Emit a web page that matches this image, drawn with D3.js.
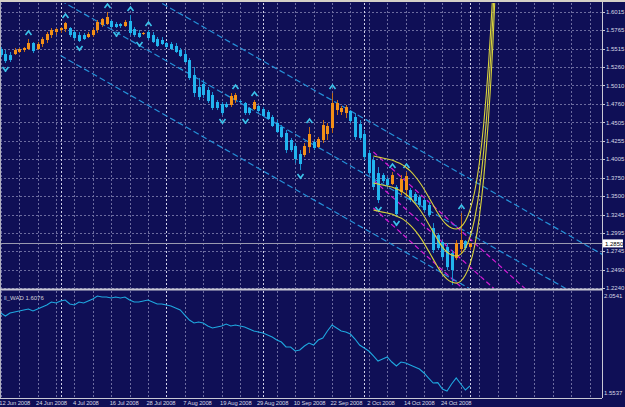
<!DOCTYPE html>
<html>
<head>
<meta charset="utf-8">
<script src="https://cdn.jsdelivr.net/npm/d3@7"></script>
<style>
  body{margin:0;background:#10105a;}
  svg{display:block;}
</style>
</head>
<body>
<svg></svg>
<script>
// daily bars, 12 Jun 2008 .. 3 Nov 2008
const opens = [1.5509,1.5440,1.5426,1.5440,1.5468,1.5495,1.5509,1.5591,1.5509,1.5577,1.5632,1.5700,1.5741,1.5769,1.5782,1.5796,1.5741,1.5700,1.5700,1.5673,1.5700,1.5769,1.5837,1.5851,1.5892,1.5851,1.5851,1.5823,1.5892,1.5782,1.5728,1.5714,1.5741,1.5700,1.5645,1.5632,1.5591,1.5577,1.5550,1.5495,1.5440,1.5358,1.5153,1.4989,1.5030,1.4948,1.4880,1.4784,1.4756,1.4756,1.4743,1.4811,1.4797,1.4770,1.4702,1.4688,1.4729,1.4688,1.4647,1.4579,1.4497,1.4442,1.4360,1.4264,1.4182,1.4072,1.4059,1.4168,1.4237,1.4168,1.4264,1.4346,1.4428,1.4674,1.4647,1.4633,1.4661,1.4579,1.4483,1.4346,1.4086,1.3990,1.3812,1.3785,1.3730,1.3662,1.3621,1.3552,1.3580,1.3580,1.3525,1.3484,1.3443,1.3375,1.3060,1.2964,1.2868,1.2800,1.2718,1.2649,1.2773,1.2882,1.2800];
const highs = [1.5536,1.5495,1.5468,1.5523,1.5523,1.5536,1.5645,1.5604,1.5604,1.5673,1.5741,1.5796,1.5796,1.5810,1.5878,1.5810,1.5769,1.5741,1.5728,1.5741,1.5796,1.5906,1.5933,1.6015,1.5906,1.5878,1.5864,1.5906,1.5974,1.5810,1.5769,1.5741,1.5769,1.5741,1.5673,1.5673,1.5604,1.5604,1.5591,1.5523,1.5495,1.5386,1.5262,1.5112,1.5085,1.4989,1.4921,1.4811,1.4784,1.4784,1.4907,1.4907,1.4811,1.4784,1.4715,1.4811,1.4743,1.4715,1.4674,1.4606,1.4538,1.4469,1.4401,1.4291,1.4223,1.4127,1.4223,1.4442,1.4264,1.4305,1.4538,1.4497,1.4907,1.4811,1.4729,1.4743,1.4674,1.4633,1.4538,1.4401,1.4127,1.4031,1.3894,1.3812,1.3758,1.3826,1.3648,1.3785,1.3826,1.3607,1.3552,1.3511,1.3470,1.3415,1.3128,1.2992,1.2896,1.2855,1.2759,1.2896,1.3265,1.2896,1.2855];
const lows = [1.5399,1.5317,1.5331,1.5427,1.5454,1.5468,1.5495,1.5454,1.5495,1.5536,1.5591,1.5659,1.5700,1.5728,1.5741,1.5673,1.5632,1.5604,1.5632,1.5659,1.5673,1.5728,1.5810,1.5837,1.5796,1.5796,1.5796,1.5810,1.5700,1.5673,1.5659,1.5700,1.5632,1.5591,1.5536,1.5564,1.5523,1.5495,1.5454,1.5399,1.5317,1.5085,1.4852,1.4811,1.4838,1.4770,1.4674,1.4674,1.4606,1.4702,1.4715,1.4770,1.4770,1.4606,1.4606,1.4674,1.4647,1.4579,1.4538,1.4442,1.4360,1.4291,1.4086,1.4100,1.3949,1.3853,1.4031,1.4086,1.4127,1.4155,1.4223,1.4264,1.4360,1.4606,1.4606,1.4565,1.4497,1.4264,1.4264,1.3990,1.3785,1.3580,1.3402,1.3675,1.3621,1.3648,1.3210,1.3511,1.3484,1.3415,1.3402,1.3347,1.3279,1.3210,1.2718,1.2759,1.2622,1.2485,1.2280,1.2622,1.2718,1.2759,1.2759];
const closes = [1.5426,1.5344,1.5358,1.5495,1.5509,1.5523,1.5591,1.5481,1.5577,1.5645,1.5714,1.5769,1.5782,1.5796,1.5864,1.5700,1.5659,1.5618,1.5645,1.5714,1.5769,1.5878,1.5919,1.5947,1.5810,1.5810,1.5823,1.5878,1.5728,1.5700,1.5673,1.5728,1.5659,1.5604,1.5550,1.5577,1.5536,1.5509,1.5468,1.5413,1.5331,1.5112,1.4907,1.4852,1.4880,1.4797,1.4702,1.4702,1.4633,1.4715,1.4866,1.4880,1.4784,1.4633,1.4633,1.4784,1.4661,1.4592,1.4552,1.4456,1.4373,1.4305,1.4127,1.4127,1.4004,1.3936,1.4182,1.4346,1.4155,1.4278,1.4469,1.4456,1.4770,1.4770,1.4702,1.4715,1.4524,1.4305,1.4291,1.4031,1.3812,1.3621,1.3443,1.3703,1.3648,1.3785,1.3251,1.3730,1.3771,1.3443,1.3429,1.3375,1.3306,1.3238,1.2759,1.2786,1.2663,1.2526,1.2485,1.2855,1.2896,1.2786,1.2850];

// fractal marks (bar index)
const fractalsUp = [6,14,23,28,32,51,55,67,72,85,88,100];
const fractalsDown = [1,17,25,30,48,53,65,82,86,98];

// ll_WAD sub window
const wad = [1.9579,1.9434,1.9579,1.9627,1.9675,1.9723,1.9771,1.9675,1.9771,1.9867,1.9964,2.0108,2.0060,2.0156,2.0204,2.0012,1.9964,2.0108,2.0060,2.0156,2.0252,2.0397,2.0349,2.0349,2.0300,2.0349,2.0300,2.0349,2.0204,2.0108,2.0108,2.0156,2.0204,2.0108,2.0012,2.0012,1.9964,1.9915,1.9819,1.9723,1.9482,1.9242,1.9097,1.9146,1.9097,1.8953,1.8857,1.8905,1.8953,1.9049,1.8953,1.9001,1.8953,1.8905,1.8809,1.8712,1.8664,1.8616,1.8520,1.8424,1.8279,1.8183,1.7943,1.7943,1.7750,1.7798,1.7991,1.8135,1.8039,1.8279,1.8376,1.8712,1.9001,1.8857,1.8712,1.8664,1.8568,1.8327,1.8039,1.7895,1.7750,1.7510,1.7269,1.7365,1.7462,1.7221,1.7028,1.7221,1.7173,1.7077,1.6980,1.6884,1.6692,1.6451,1.6210,1.6230,1.5922,1.5826,1.6162,1.6451,1.6162,1.5874,1.6076];
const wadLabel = 'll_WAD 1.6076';
const wadTicks = [2.0541, 1.5537];

// polynomial regression (yellow), from bar 81
const regrStart = 81;
const regrMid = [1.3676,1.3662,1.3648,1.3635,1.3621,1.3594,1.3566,1.3525,1.3471,1.3402,1.3320,1.3224,1.3115,1.3005,1.2896,1.2800,1.2732,1.2691,1.2677,1.2704,1.2787,1.2937,1.3183,1.3566,1.4127,1.4907,1.5974,1.7410];
const regrBand = 0.037;

// linear channels: [bar, price] at both ends, band width
const blueChannel = {from:[13,1.6172], to:[131,1.1939], band:0.0752};
const pinkChannel = {from:[81,1.3717], to:[115,1.1791], band:0.0383};

const priceTicks = [1.6015,1.5765,1.5515,1.5260,1.5010,1.4760,1.4505,1.4255,1.4005,1.3750,1.3500,1.3245,1.2995,1.2745,1.2490,1.2240];
const lastPrice = 1.2850;

const dateTicks = [0,8,16,24,32,40,48,56,64,72,80,88,96];
const dateLabels = ['12 Jun 2008','24 Jun 2008','4 Jul 2008','16 Jul 2008','28 Jul 2008','7 Aug 2008','19 Aug 2008','29 Aug 2008','10 Sep 2008','22 Sep 2008','2 Oct 2008','14 Oct 2008','24 Oct 2008'];
const monthStarts = [13,36,57,79,102];

//////////////////////////////////////
const W = 625, H = 407;
const mainTop = 3, mainBottom = 288, chartRight = 602;
const subTop = 291, subBottom = 398;
const font = 'Liberation Sans, Arial, sans-serif';

const svg = d3.select('svg').attr('width',W).attr('height',H);
svg.append('rect').attr('width',W).attr('height',H).attr('fill','#0f0f56');

const x = d3.scaleLinear().domain([0,130]).range([0.8, 0.8+4.6*130]);
const y = d3.scaleLinear().domain([1.2240,1.6015]).range([288,12]);
const yW = d3.scaleLinear().domain([1.5537,2.0541]).range([397,293]);

const defs = svg.append('defs');
defs.append('clipPath').attr('id','clipMain')
  .append('rect').attr('x',0).attr('y',mainTop).attr('width',chartRight).attr('height',mainBottom-mainTop);
defs.append('clipPath').attr('id','clipSub')
  .append('rect').attr('x',0).attr('y',subTop).attr('width',chartRight).attr('height',subBottom-subTop);

// grid ////////////////////////////
const gridCol = '#6c6ca0';
const grid = svg.append('g');
grid.selectAll('.hgrid').data(priceTicks).enter().append('line')
  .attr('x1',0).attr('x2',chartRight)
  .attr('y1',d=>Math.round(y(d))+0.5).attr('y2',d=>Math.round(y(d))+0.5)
  .attr('stroke',gridCol).attr('stroke-dasharray','2,2');

const vTicks = d3.range(0,131,4);
[[mainTop,mainBottom],[subTop,subBottom]].forEach(([t,b])=>{
  grid.append('g').selectAll('line').data(vTicks).enter().append('line')
    .attr('x1',d=>Math.round(x(d))+0.5).attr('x2',d=>Math.round(x(d))+0.5)
    .attr('y1',t).attr('y2',b)
    .attr('stroke',gridCol).attr('stroke-dasharray','2,2');
  grid.append('g').selectAll('line').data(monthStarts).enter().append('line')
    .attr('x1',d=>Math.round(x(d))+0.5).attr('x2',d=>Math.round(x(d))+0.5)
    .attr('y1',t).attr('y2',b)
    .attr('stroke','#d0d0e8').attr('stroke-dasharray','2,2');
});

// current price line
svg.append('line')
  .attr('x1',0).attr('x2',chartRight)
  .attr('y1',Math.round(y(lastPrice))+0.5).attr('y2',Math.round(y(lastPrice))+0.5)
  .attr('stroke','#9a9ab0');

// main plot ////////////////////////
const plot = svg.append('g').attr('clip-path','url(#clipMain)');

function channel(ch, color, dash) {
  [-1,0,1].forEach(k=>{
    plot.append('line')
      .attr('x1',x(ch.from[0])).attr('y1',y(ch.from[1]+k*ch.band))
      .attr('x2',x(ch.to[0])).attr('y2',y(ch.to[1]+k*ch.band))
      .attr('stroke',color).attr('stroke-width',1.2)
      .attr('stroke-dasharray',dash);
  });
}
channel(blueChannel,'#2590d8','6,3');
channel(pinkChannel,'#d41ad4','5,3');

// candles
const bars = opens.map((o,i)=>({i:i,o:o,h:highs[i],l:lows[i],c:closes[i]}));
const upCol = '#f39018', upWick = '#c06a18';
const dnCol = '#22b4ee', dnWick = '#1a8fd0';

plot.selectAll('.wick').data(bars).enter().append('line')
  .attr('class','wick')
  .attr('x1',d=>Math.round(x(d.i))+0.5).attr('x2',d=>Math.round(x(d.i))+0.5)
  .attr('y1',d=>y(d.h)).attr('y2',d=>y(d.l))
  .attr('stroke',d=>d.c>=d.o?upWick:dnWick);

plot.selectAll('.body').data(bars).enter().append('rect')
  .attr('class','body')
  .attr('x',d=>Math.round(x(d.i))-1)
  .attr('width',3)
  .attr('y',d=>y(Math.max(d.o,d.c)))
  .attr('height',d=>Math.max(1,Math.abs(y(d.o)-y(d.c))))
  .attr('fill',d=>d.c>=d.o?upCol:dnCol);

// fractal arrows
plot.selectAll('.fup').data(fractalsUp).enter().append('path')
  .attr('class','fup')
  .attr('transform',i=>`translate(${Math.round(x(i))+0.5},${y(highs[i])-6})`)
  .attr('d','M-3,2L0,-2L3,2')
  .attr('fill','none').attr('stroke','#3cc4ec').attr('stroke-width',1.6);
plot.selectAll('.fdn').data(fractalsDown).enter().append('path')
  .attr('class','fdn')
  .attr('transform',i=>`translate(${Math.round(x(i))+0.5},${y(lows[i])+6})`)
  .attr('d','M-3,-2L0,2L3,-2M0,2L0,3')
  .attr('fill','none').attr('stroke','#3cc4ec').attr('stroke-width',1.6);

// polynomial regression curves
const regrLine = d3.line().curve(d3.curveMonotoneX)
  .x((d,k)=>x(regrStart+k));
[-1,0,1].forEach(k=>{
  plot.append('path')
    .attr('d',regrLine.y(d=>y(d+k*regrBand))(regrMid))
    .attr('fill','none').attr('stroke','#d8d23c').attr('stroke-width',1.1);
});

// sub window /////////////////////////
const sub = svg.append('g').attr('clip-path','url(#clipSub)');
sub.append('path')
  .attr('d',d3.line().x((d,i)=>x(i)).y(d=>yW(d))(wad))
  .attr('fill','none').attr('stroke','#1fa8e0').attr('stroke-width',1.1);

svg.append('text').text(wadLabel)
  .attr('x',4).attr('y',300)
  .attr('fill','#d0d0dc').attr('font-size','6px').attr('font-family',font);

// frames //////////////////////////////
svg.append('rect').attr('x',0).attr('y',0).attr('width',W).attr('height',2).attr('fill','#d4d0c8');
svg.append('line').attr('x1',0.5).attr('x2',0.5).attr('y1',2).attr('y2',subBottom).attr('stroke','#b0b0c0');
svg.append('line').attr('x1',chartRight+0.5).attr('x2',chartRight+0.5).attr('y1',2).attr('y2',subBottom)
  .attr('stroke','#c8c8d4');
svg.append('line').attr('x1',0).attr('x2',chartRight).attr('y1',289.5).attr('y2',289.5)
  .attr('stroke','#c8c8d4').attr('stroke-width',2);
svg.append('line').attr('x1',0).attr('x2',chartRight).attr('y1',subBottom+0.5).attr('y2',subBottom+0.5)
  .attr('stroke','#c8c8d4');

// price axis
svg.selectAll('.ptick').data(priceTicks).enter().append('line')
  .attr('x1',chartRight).attr('x2',chartRight+3)
  .attr('y1',d=>Math.round(y(d))+0.5).attr('y2',d=>Math.round(y(d))+0.5)
  .attr('stroke','#c8c8d4');
svg.selectAll('.plabel').data(priceTicks).enter().append('text')
  .attr('x',chartRight+4).attr('y',d=>y(d)+2.2)
  .text(d=>d.toFixed(4))
  .attr('fill','#d8d8e4').attr('font-size','6px').attr('font-family',font);

svg.append('rect')
  .attr('x',chartRight+1).attr('y',y(lastPrice)-4).attr('width',20).attr('height',8)
  .attr('fill','#ffffff');
svg.append('text').text(lastPrice.toFixed(4))
  .attr('x',chartRight+3).attr('y',y(lastPrice)+2.3)
  .attr('fill','#000000').attr('font-size','6px').attr('font-family',font);

// wad axis labels
svg.selectAll('.wlabel').data(wadTicks).enter().append('text')
  .attr('x',chartRight+2).attr('y',(d,i)=>i===0?yW(d)+4.5:yW(d)-2)
  .text(d=>d.toFixed(4))
  .attr('fill','#d8d8e4').attr('font-size','6px').attr('font-family',font);

// date labels
svg.selectAll('.dlabel').data(dateTicks).enter().append('text')
  .attr('x',d=>x(d)-1.5).attr('y',405)
  .text((d,i)=>dateLabels[i])
  .attr('fill','#d8d8e4').attr('font-size','5.8px').attr('letter-spacing','-0.1px')
  .attr('font-family',font);
</script>
</body>
</html>
